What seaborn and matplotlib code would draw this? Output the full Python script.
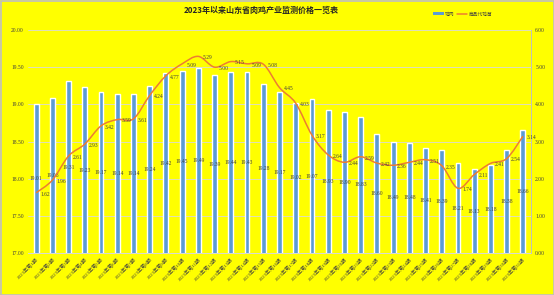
import numpy as np
import pandas as pd
import matplotlib
matplotlib.use("Agg")
import matplotlib.pyplot as plt
import seaborn as sns
from matplotlib.path import Path
from matplotlib.patches import PathPatch, Rectangle, Patch
from matplotlib.lines import Line2D

# ---------------- data ----------------
periods = ["2023年第1期", "2023年第2期", "2023年第3期", "2023年第4期", "2023年第5期",
           "2023年第6期", "2023年第7期", "2023年第8期", "2023年第9期", "2023年第10期",
           "2023年第11期", "2023年第12期", "2023年第13期", "2023年第14期", "2023年第15期",
           "2023年第16期", "2023年第17期", "2023年第18期", "2023年第19期", "2023年第20期",
           "2023年第21期", "2023年第22期", "2023年第23期", "2023年第24期", "2023年第25期",
           "2023年第26期", "2023年第27期", "2023年第28期", "2023年第29期", "2023年第30期",
           "2023年第31期"]
bar_values = [19.01, 19.08, 19.31, 19.23, 19.17, 19.14, 19.14, 19.24, 19.42, 19.45,
              19.49, 19.39, 19.44, 19.43, 19.28, 19.17, 19.02, 19.07, 18.93, 18.90,
              18.83, 18.60, 18.49, 18.48, 18.41, 18.39, 18.21, 18.13, 18.18, 18.38,
              18.66]
line_values = [1.62, 1.96, 2.61, 2.93, 3.42, 3.59, 3.61, 4.24, 4.77, 5.09,
               5.29, 5.00, 5.15, 5.09, 5.08, 4.45, 4.03, 3.17, 2.64, 2.44,
               2.59, 2.42, 2.36, 2.44, 2.51, 2.35, 1.74, 2.11, 2.41, 2.54,
               3.14]
bar_name = "鸡肉"
line_name = "商品代鸡苗"
title = "2023年以来山东省肉鸡产业监测价格一览表"
left_ticks = [17.00, 17.50, 18.00, 18.50, 19.00, 19.50, 20.00]
right_ticks = [0.00, 1.00, 2.00, 3.00, 4.00, 5.00, 6.00]

# ---------------- style ----------------
sns.set_theme(style="white")
plt.rcParams["font.family"] = ["Liberation Serif", "Noto Sans CJK SC", "DejaVu Sans"]
plt.rcParams["axes.unicode_minus"] = False

YELLOW = "#FFFF00"
BAR = "#5B9BD5"
LINE = "#ED7D31"
TXT = "#404040"
GRID = "#D9D9D9"

fig = plt.figure(figsize=(5.54, 2.95), dpi=100, facecolor=YELLOW)
ax1 = fig.add_axes([28 / 554, 1 - 253 / 295, (531 - 28) / 554, (253 - 30) / 295])
ax1.set_facecolor(YELLOW)

df = pd.DataFrame({"period": periods, "price": bar_values})
sns.barplot(data=df, x="period", y="price", order=periods, color=BAR,
            saturation=1, width=0.3, ax=ax1, zorder=2)

ax1.set_ylim(17, 20)
ax1.set_xlim(-0.5, len(periods) - 0.5)
ax1.set_yticks(left_ticks)
ax1.set_yticklabels([f"{t:.2f}" for t in left_ticks], fontsize=4, color=TXT)
ax1.set_xticks(range(len(periods)))
ax1.set_xticklabels(periods, rotation=45, ha="right", va="top",
                    rotation_mode="anchor", fontsize=3.6, color=TXT)
ax1.tick_params(axis="both", length=0, pad=3)
ax1.set_xlabel("")
ax1.set_ylabel("")
ax1.grid(axis="y", color=GRID, linewidth=0.6, zorder=0)
ax1.set_axisbelow(True)
for s in ["top", "left", "right"]:
    ax1.spines[s].set_visible(False)
ax1.spines["bottom"].set_color(GRID)
ax1.spines["bottom"].set_linewidth(0.7)

# bar labels at bar centres
for i, v in enumerate(bar_values):
    ax1.text(i, (17 + v) / 2, f"{v:.2f}", ha="center", va="center",
             fontsize=4, color=TXT, zorder=5)

# ---------------- right axis / smoothed line ----------------
ax2 = ax1.twinx()
ax2.set_ylim(0, 6)
ax2.set_yticks(right_ticks)
ax2.set_yticklabels([f"{t:.2f}" for t in right_ticks], fontsize=4, color=TXT)
ax2.tick_params(axis="y", length=0, pad=3)
for s in ["top", "left", "bottom"]:
    ax2.spines[s].set_visible(False)
ax2.spines["right"].set_color("#BFBFBF")
ax2.spines["right"].set_linewidth(0.7)

xs = np.arange(len(line_values), dtype=float)
ys = np.array(line_values, dtype=float)
pts = np.column_stack([xs, ys])
verts = [tuple(pts[0])]
codes = [Path.MOVETO]
n = len(pts)
for i in range(n - 1):
    p0 = pts[i - 1] if i > 0 else pts[i]
    p1 = pts[i]
    p2 = pts[i + 1]
    p3 = pts[i + 2] if i + 2 < n else pts[i + 1]
    c1 = p1 + (p2 - p0) / 6.0
    c2 = p2 - (p3 - p1) / 6.0
    verts += [tuple(c1), tuple(c2), tuple(p2)]
    codes += [Path.CURVE4, Path.CURVE4, Path.CURVE4]
ax2.add_patch(PathPatch(Path(verts, codes), facecolor="none", edgecolor=LINE,
                        linewidth=1.1, zorder=3))

for i, v in enumerate(line_values):
    ax2.annotate(f"{v:.2f}", (i, v), xytext=(3, -1), textcoords="offset points",
                 ha="left", va="center", fontsize=4, color=TXT, zorder=6)

# ---------------- title & legend ----------------
fig.text(261 / 554, 1 - 10 / 295, title, ha="center", va="center",
         fontsize=5.8, fontweight="bold", color="#262626",
         family=["Noto Sans CJK SC", "DejaVu Sans"])

handles = [Patch(facecolor=BAR, edgecolor="none"),
           Line2D([0], [0], color=LINE, linewidth=1.1)]
leg = fig.legend(handles, [bar_name, line_name], loc="center",
                 bbox_to_anchor=(463 / 554, 1 - 14 / 295), ncol=2, frameon=False,
                 prop={"family": ["Noto Sans CJK SC", "DejaVu Sans"], "size": 3.4},
                 handlelength=2.2, handleheight=0.6, columnspacing=0.5,
                 handletextpad=0.3, borderpad=0)
for t in leg.get_texts():
    t.set_color(TXT)

fig.patches.append(Rectangle((0.5 / 554, 0.5 / 295), 1 - 1 / 554, 1 - 1 / 295,
                             transform=fig.transFigure, fill=False,
                             edgecolor="#BFBFBF", linewidth=1.2))

fig.savefig("out.png", dpi=100, facecolor=YELLOW)
